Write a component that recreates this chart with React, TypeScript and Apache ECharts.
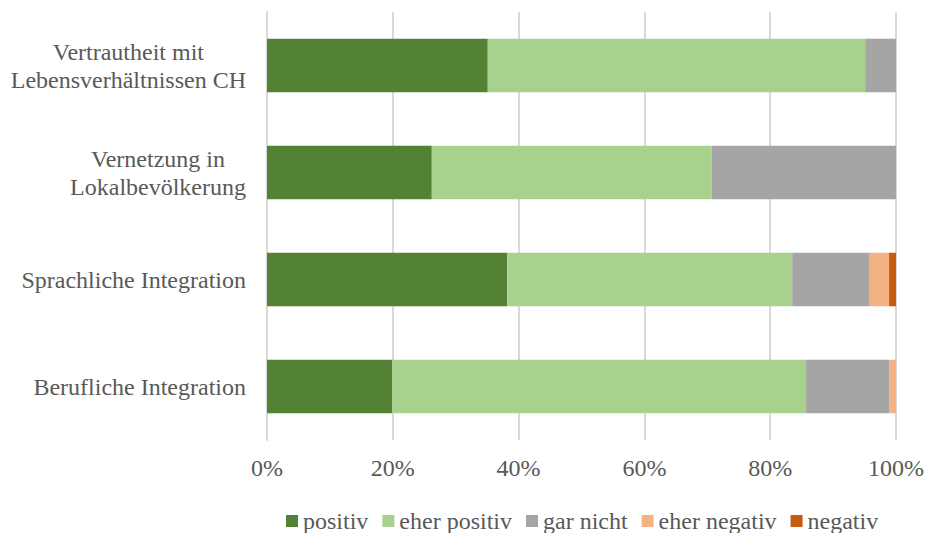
import React, { useEffect, useRef } from "react";
import * as echarts from "echarts";

const categories = [
  "Berufliche Integration",
  "Sprachliche Integration",
  "Vernetzung in\nLokalbevölkerung",
  "Vertrautheit mit\nLebensverhältnissen CH",
];
const seriesNames = ["positiv", "eher positiv", "gar nicht", "eher negativ", "negativ"];
const positiv = [19.9, 38.2, 26.2, 35.1];
const eherPositiv = [65.8, 45.3, 44.5, 60.0];
const garNicht = [13.2, 12.2, 29.3, 4.9];
const eherNegativ = [1.1, 3.2, 0, 0];
const negativ = [0, 1.1, 0, 0];
const colors = ["#548235", "#A9D18E", "#A5A5A5", "#F4B183", "#C55A11"];
const xTicks = [0, 20, 40, 60, 80, 100];

const FONT = "Liberation Serif";
const TEXT = "#595959";

export default function App() {
  const ref = useRef<HTMLDivElement>(null);
  useEffect(() => {
    document.body.style.margin = "0";
    document.body.style.overflow = "hidden";
    const chart = echarts.init(ref.current!, null, { renderer: "svg" });
    const data = [positiv, eherPositiv, garNicht, eherNegativ, negativ];
    chart.setOption({
      animation: false,
      textStyle: { fontFamily: FONT, fontSize: 24 },
      grid: {
        left: 267,
        right: 29,
        top: 12,
        bottom: 93,
        containLabel: false,
        outerBoundsMode: "none",
      },
      xAxis: {
        type: "value",
        min: xTicks[0],
        max: xTicks[xTicks.length - 1],
        interval: 20,
        axisLabel: {
          formatter: "{value}%",
          color: TEXT,
          fontSize: 24,
          fontFamily: FONT,
          margin: 16,
        },
        splitLine: { show: true, lineStyle: { color: "#D9D9D9", width: 2 } },
        axisLine: { show: false },
        axisTick: { show: false },
      },
      yAxis: {
        type: "category",
        data: categories,
        axisLabel: {
          color: TEXT,
          fontSize: 24,
          fontFamily: FONT,
          align: "right",
          margin: 21,
          lineHeight: 28,
          formatter: (v: string) =>
            v
              .split("\n")
              .map((l) => `{c|${l}}`)
              .join("\n"),
          rich: {
            c: {
              align: "center",
              color: TEXT,
              fontSize: 24,
              fontFamily: FONT,
              lineHeight: 28,
            },
          },
        },
        axisLine: { show: true, lineStyle: { color: "#D9D9D9", width: 2 } },
        axisTick: { show: false },
      },
      legend: {
        bottom: 0,
        padding: [0, 0, 0, 0],
        left: 286,
        itemWidth: 12,
        itemHeight: 12,
        itemGap: 14,
        icon: "rect",
        textStyle: { color: TEXT, fontSize: 24, fontFamily: FONT },
        data: seriesNames,
      },
      series: seriesNames.map((name, i) => ({
        name,
        type: "bar",
        stack: "total",
        barWidth: "50%",
        itemStyle: { color: colors[i] },
        data: data[i],
      })),
    });
    return () => chart.dispose();
  }, []);
  return <div ref={ref} style={{ width: 925, height: 533 }} />;
}
